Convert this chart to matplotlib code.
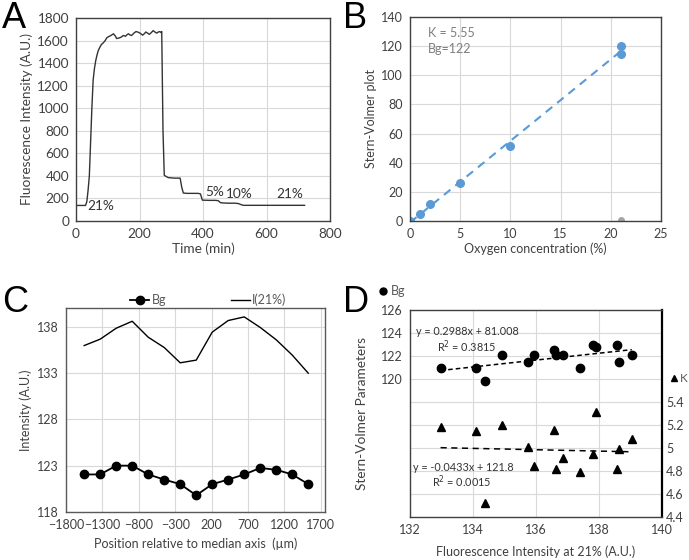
import numpy as np
import matplotlib
matplotlib.use("Agg")
import matplotlib.pyplot as plt
from matplotlib.lines import Line2D
from matplotlib.ticker import MultipleLocator, FuncFormatter

plt.rcParams['font.family'] = ['Lato', 'DejaVu Sans']
plt.rcParams['font.size'] = 9

TXT = '#404040'
GRID = '#d9d9d9'
FRAME = '#595959'
BLUE = '#5b9bd5'

# Panel A: fluorescence trace
time_min = [0, 30, 34, 38, 42, 46, 50, 54, 58, 62, 66, 70, 75, 80, 86, 92, 97, 103,
            110, 118, 124, 128, 135, 142, 149, 156, 160, 165, 170, 175, 182, 189, 195,
            202, 210, 215, 220, 226, 231, 237, 243, 249, 254, 259, 264, 268, 270, 274,
            278, 290, 310, 328, 333, 338, 350, 370, 385, 392, 398, 420, 440, 448, 455,
            462, 480, 500, 511, 520, 527, 560, 600, 650, 700, 720]
fluo = [138, 138, 170, 270, 400, 700, 1000, 1250, 1350, 1420, 1470, 1510, 1540, 1565,
        1580, 1600, 1625, 1635, 1645, 1660, 1640, 1618, 1622, 1630, 1645, 1638, 1650,
        1660, 1650, 1645, 1665, 1680, 1675, 1665, 1648, 1660, 1676, 1665, 1655, 1670,
        1688, 1675, 1666, 1675, 1680, 1670, 1680, 800, 405, 385, 380, 380, 300, 248,
        245, 245, 245, 240, 185, 183, 183, 180, 163, 160, 158, 158, 155, 145, 139, 139,
        139, 139, 139, 139]
a_labels = ['21%', '5%', '10%', '21%']
a_label_t = [78, 437, 513, 674]
a_label_v = [130, 255, 240, 240]

# Panel B: Stern-Volmer
o2_pct = [0, 1, 2, 5, 10, 21, 21]
sv = [0, 5.1, 11.4, 25.8, 51.5, 120.3, 114.6]
o2_grey = [21]
sv_grey = [0.5]

# Panel C: profile across the median axis
position_um = [-1550, -1330, -1110, -890, -670, -450, -230, -10, 210, 430, 650, 870,
               1090, 1310, 1530]
bg = [122.05, 122.05, 123.0, 123.0, 122.05, 121.5, 121.0, 119.8, 121.0, 121.5, 122.05,
      122.75, 122.55, 122.05, 121.0]
i21 = [135.95, 136.64, 137.82, 138.57, 136.85, 135.74, 134.09, 134.38, 137.4, 138.65,
       139.04, 137.9, 136.57, 134.92, 132.97]

# Panel D: K for the same positions
k_val = [4.84, 4.82, 4.95, 4.82, 4.91, 5.01, 5.15, 4.52, 4.79, 4.99, 5.08, 5.31, 5.16,
         5.2, 5.18]
bg_fit = (0.2988, 81.008)


def style(ax, fs=9):
    ax.grid(True, color=GRID, lw=0.8)
    ax.set_axisbelow(True)
    ax.tick_params(length=0, colors=TXT, labelsize=fs, pad=5)
    for s in ax.spines.values():
        s.set_color(FRAME)
        s.set_linewidth(1.0)


fig = plt.figure(figsize=(6.89, 5.6), dpi=100)

# ---- A
ax = fig.add_axes([76 / 689, 1 - 221 / 560, 254 / 689, 203 / 560])
style(ax, 9.8)
for s in ax.spines.values():
    s.set_color('#404040')
ax.plot(time_min, fluo, color='#333333', lw=1.0)
for lab, t, v in zip(a_labels, a_label_t, a_label_v):
    ax.text(t, v, lab, ha='center', va='center', color='#333333', fontsize=9.8)
ax.set_xlim(0, 800)
ax.set_ylim(0, 1800)
ax.xaxis.set_major_locator(MultipleLocator(200))
ax.yaxis.set_major_locator(MultipleLocator(200))
ax.set_xlabel('Time (min)', color=TXT, labelpad=2, fontsize=9.8)
ax.set_ylabel('Fluorescence Intensity (A.U.)', color=TXT, labelpad=3, fontsize=9.8)

# ---- B
ax = fig.add_axes([410 / 689, 1 - 221 / 560, 251 / 689, 204 / 560])
style(ax)
for s in ax.spines.values():
    s.set_color('#404040')
slope, icpt = np.polyfit(o2_pct, sv, 1)
xs = np.array([min(o2_pct), max(o2_pct)])
ax.plot(xs, slope * xs + icpt, color=BLUE, lw=1.5, ls=(0, (4, 3)))
ax.plot(o2_pct, sv, 'o', color=BLUE, ms=5.5)
ax.plot(o2_grey, sv_grey, 'o', color='#a5a5a5', ms=4)
ax.text(1.8, 129, 'K = 5.55', color='#7f7f7f', va='center')
ax.text(1.8, 118, 'Bg=122', color='#7f7f7f', va='center')
ax.set_xlim(0, 25)
ax.set_ylim(0, 140)
ax.xaxis.set_major_locator(MultipleLocator(5))
ax.yaxis.set_major_locator(MultipleLocator(20))
ax.set_xlabel('Oxygen concentration (%)', color=TXT, labelpad=2)
ax.set_ylabel('Stern-Volmer plot', color=TXT, labelpad=3)

# ---- C
ax = fig.add_axes([66 / 689, 1 - 512 / 560, 259 / 689, 204 / 560])
style(ax)
ax.plot(position_um, bg, '-o', color='black', lw=1.3, ms=6, label='Bg')
ax.plot(position_um, i21, '-', color='black', lw=1.0, label='I(21%)')
ax.set_xlim(-1800, 1760)
ax.set_ylim(118, 140)
ax.set_xticks(np.arange(-1800, 1701, 500))
ax.set_yticks(np.arange(118, 139, 5))
ax.set_xlabel('Position relative to median axis  (µm)', color=TXT, labelpad=5)
ax.set_ylabel('Intensity (A.U.)', color=TXT, labelpad=4)
leg = ax.legend(loc='lower center', bbox_to_anchor=(0.55, 1.01), ncol=2, frameon=False,
                borderpad=0, borderaxespad=0, handlelength=1.5, handletextpad=0.2,
                columnspacing=5.2)
for t in leg.get_texts():
    t.set_color('#595959')

# ---- D
ax = fig.add_axes([410 / 689, 1 - 517 / 560, 252 / 689, 207 / 560])
style(ax)
for s in ax.spines.values():
    s.set_color('#404040')
axk = ax.twinx()
axk.tick_params(length=0, colors=TXT, labelsize=9, pad=3)
for s in axk.spines.values():
    s.set_visible(False)
ax.spines['right'].set_color('black')
ax.spines['right'].set_linewidth(1.6)

ax.plot(i21, bg, 'o', color='black', ms=6)
xf = np.array([min(i21), max(i21)])
ax.plot(xf, bg_fit[0] * xf + bg_fit[1], color='black', lw=1.1, ls=(0, (3, 2)))
axk.plot(i21, k_val, '^', color='black', ms=6)
ks, kb = np.polyfit(i21, k_val, 1)
axk.plot(xf, ks * xf + kb, color='black', lw=1.1, ls=(0, (4, 3)))

ax.set_xlim(132, 140)
ax.set_ylim(108, 126)
axk.set_ylim(4.4, 6.2)
ax.xaxis.set_major_locator(MultipleLocator(2))
ax.yaxis.set_major_locator(MultipleLocator(2))
axk.set_yticks(np.arange(4.4, 5.41, 0.2))
ax.yaxis.set_major_formatter(FuncFormatter(lambda v, p: f'{v:.0f}' if v >= 119.5 else ''))
axk.yaxis.set_major_formatter(FuncFormatter(lambda v, p: f'{v:.1f}'.replace('5.0', '5')))
ax.text(132.2, 124.1, 'y = 0.2988x + 81.008', fontsize=7.8, color='#333333', va='center')
ax.text(132.85, 122.85, 'R$^2$ = 0.3815', fontsize=7.8, color='#333333', va='center')
axk.text(132.1, 4.83, 'y = -0.0433x + 121.8', fontsize=7.8, color='#333333', va='center')
axk.text(132.7, 4.71, 'R$^2$ = 0.0015', fontsize=7.8, color='#333333', va='center')
ax.set_xlabel('Fluorescence Intensity at 21% (A.U.)', color=TXT, labelpad=7)
ax.set_ylabel('Stern-Volmer Parameters', color=TXT, fontsize=9.8)
ax.yaxis.set_label_coords(-0.165, 0.5)

fig.legend(handles=[Line2D([], [], marker='o', color='black', ls='none', ms=5)],
           labels=['Bg'], loc='center left', bbox_to_anchor=(372 / 689, 1 - 291 / 560),
           frameon=False, borderpad=0, handlelength=0.8, handletextpad=0.2,
           labelcolor='#595959')
fig.legend(handles=[Line2D([], [], marker='^', color='black', ls='none', ms=5)],
           labels=['K'], loc='center left', bbox_to_anchor=(663 / 689, 1 - 379 / 560),
           frameon=False, borderpad=0, handlelength=0.8, handletextpad=0.15,
           fontsize=8.5, labelcolor='#595959')

# panel letters
for lab, x, y in [('A', 2, 18), ('B', 343, 18), ('C', 2, 303), ('D', 343, 303)]:
    fig.text(x / 689, 1 - y / 560, lab, fontsize=26, family='Liberation Sans',
             va='center', ha='left', color='black')

fig.savefig('out.png', dpi=100)
